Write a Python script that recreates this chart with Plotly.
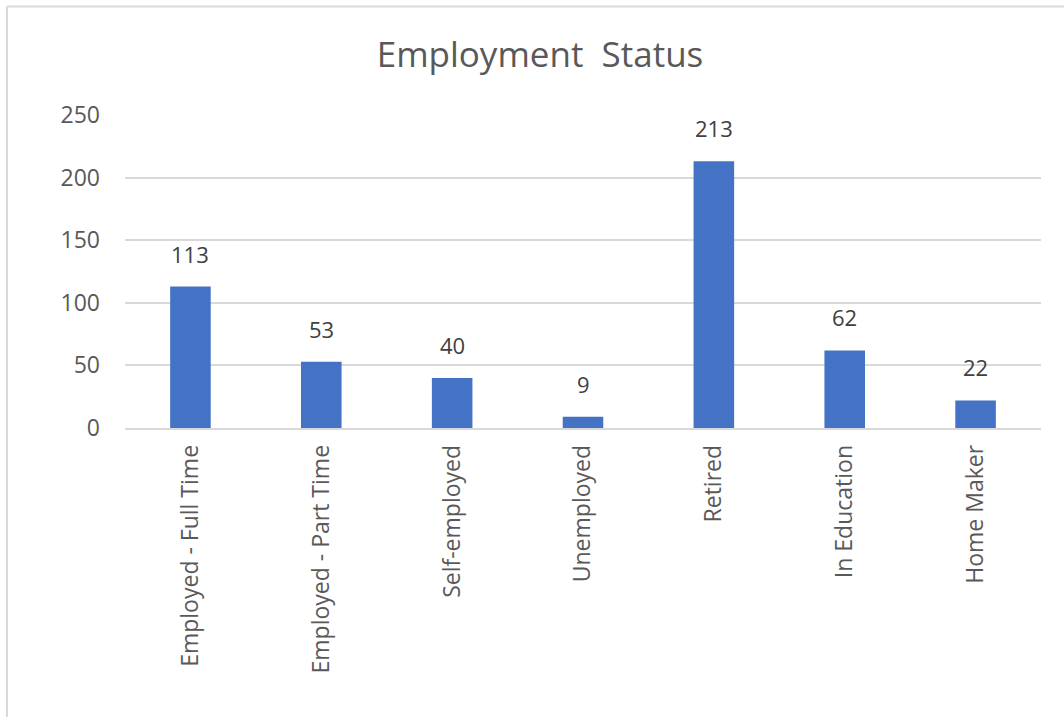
import plotly.graph_objects as go

categories = ["Employed - Full Time", "Employed - Part Time", "Self-employed",
              "Unemployed", "Retired", "In Education", "Home Maker"]
counts = [113, 53, 40, 9, 213, 62, 22]
y_ticks = [0, 50, 100, 150, 200, 250]

W, H = 1064, 717
L, R, T, B = 125, 23, 115, 289
pw, ph = W - L - R, H - T - B

fig = go.Figure(go.Bar(
    x=categories, y=counts, width=0.31,
    marker=dict(color="#4472C4", line=dict(width=0)),
))

for cat, val in zip(categories, counts):
    fig.add_annotation(x=cat, y=val, text=str(val), showarrow=False,
                       yanchor="bottom", yshift=16,
                       font=dict(size=22, color="#404040"))

# chart-area border (only left/top visible in the crop)
bx = (7 - L) / pw
by = (H - B - 6.5) / ph
fig.add_shape(type="line", xref="paper", yref="paper", x0=bx, x1=bx, y0=-1.0, y1=by,
              line=dict(color="#d9d9d9", width=2))
fig.add_shape(type="line", xref="paper", yref="paper", x0=bx, x1=1.1, y0=by, y1=by,
              line=dict(color="#d9d9d9", width=2))

fig.update_layout(
    width=W, height=H,
    margin=dict(l=L, r=R, t=T, b=B),
    paper_bgcolor="white", plot_bgcolor="white",
    font=dict(family="Open Sans, Liberation Sans, sans-serif", color="#595959"),
    title=dict(text="Employment  Status", x=540 / W, xanchor="center",
               y=1 - 55 / H, yanchor="middle",
               font=dict(size=35, color="#595959")),
    showlegend=False,
)
fig.update_xaxes(tickangle=-90, tickfont=dict(size=23, color="#595959"),
                 showline=True, linecolor="#d9d9d9", linewidth=1.5, ticks="",
                 showgrid=False, ticklabelstandoff=6)
fig.update_yaxes(range=[0, 250], tickvals=y_ticks, tickfont=dict(size=23, color="#595959"),
                 showgrid=True, gridcolor="#d9d9d9", gridwidth=1.5, zeroline=False,
                 ticks="", ticklabelstandoff=24, showline=False)

# drop the default body margin so the figure fills the window exactly
fig.write_html("out.html", config={"displayModeBar": False},
               post_script="document.body.style.margin='0';document.body.style.overflow='hidden';")
